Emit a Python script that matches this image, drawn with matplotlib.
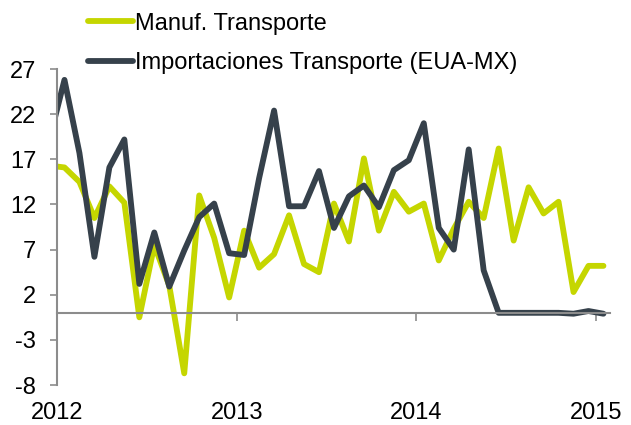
import numpy as np
import pandas as pd
import matplotlib
matplotlib.use("Agg")
import matplotlib.pyplot as plt

plt.rcParams['font.family'] = ['Liberation Sans', 'DejaVu Sans']
plt.rcParams['axes.unicode_minus'] = False

# monthly data, Dec 2011 - Jan 2015
months = pd.date_range('2011-12-01', '2015-01-01', freq='MS')

manuf = [16.3, 16.1, 14.5, 10.5, 14.0, 12.2, -0.5, 7.5, 3.0, -6.7, 13.0, 8.3, 1.7,
         9.1, 5.0, 6.5, 10.8, 5.4, 4.5, 12.1, 7.9, 17.1, 9.1, 13.4, 11.2,
         12.1, 5.8, 9.3, 12.3, 10.5, 18.2, 8.0, 13.9, 11.0, 12.3, 2.3, 5.2,
         5.2]
importaciones = [19.2, 25.8, 17.7, 6.2, 16.1, 19.2, 3.2, 8.9, 2.9, 6.9, 10.6, 12.1, 6.6,
                 6.4, 14.9, 22.4, 11.8, 11.8, 15.7, 9.4, 12.9, 14.1, 11.7, 15.8, 16.9,
                 21.0, 9.4, 7.0, 18.1, 4.7, 0.0, 0.0, 0.0, 0.0, 0.0, -0.1, 0.2,
                 -0.1]

labels = ['Manuf. Transporte', 'Importaciones Transporte (EUA-MX)']
yticks = [-8, -3, 2, 7, 12, 17, 22, 27]
years = [2012, 2013, 2014, 2015]

# decimal year, point at the middle of each month
x = months.year + (months.month - 0.5) / 12

green = '#C5D600'
dark = '#36414B'
grey = '#8C8C8C'

fig = plt.figure(figsize=(6.31, 4.25), dpi=100)
ax = fig.add_axes([0.0903, 0.094, 0.8764, 0.7436])

ax.plot(x, manuf, color=green, lw=4.2, solid_joinstyle='round',
        solid_capstyle='round', label=labels[0])
ax.plot(x, importaciones, color=dark, lw=4.2, solid_joinstyle='round',
        solid_capstyle='round', label=labels[1])

ax.set_xlim(2012, 2015.078)
ax.set_ylim(-8, 27)
ax.set_yticks(yticks)
ax.set_xticks(years)
ax.set_xticklabels([str(y) for y in years])

for s in ['top', 'right']:
    ax.spines[s].set_visible(False)
ax.spines['left'].set_color(grey)
ax.spines['left'].set_linewidth(1.5)
ax.spines['bottom'].set_position(('data', 0))
ax.spines['bottom'].set_color(grey)
ax.spines['bottom'].set_linewidth(1.5)

ax.tick_params(axis='y', direction='out', length=5, width=1.2, color=grey,
               labelsize=17, pad=10)
ax.tick_params(axis='x', direction='out', length=6, width=1.2, color=grey,
               labelsize=17, pad=58)

fig.legend(loc='upper left', bbox_to_anchor=(0.106, 1.02), frameon=False,
           fontsize=17, handlelength=1.9, handletextpad=0.1, labelspacing=0.75)

fig.savefig('out.png', dpi=100)
